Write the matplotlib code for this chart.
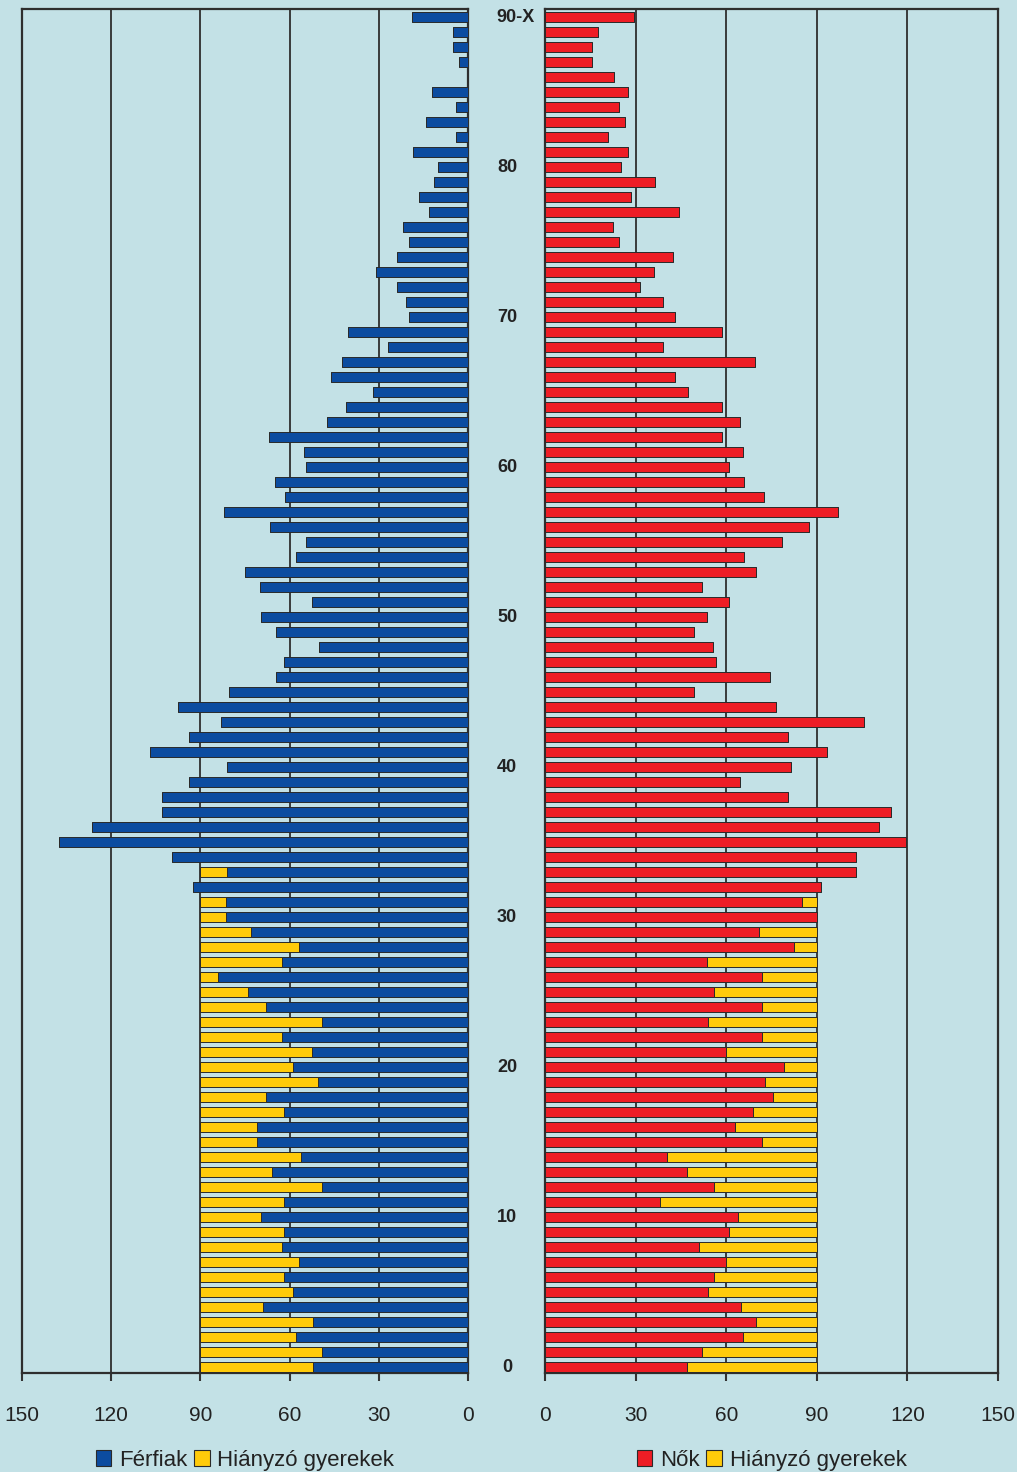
import numpy as np
import matplotlib.pyplot as plt
from matplotlib.patches import Patch

plt.rcParams['font.family'] = ['Liberation Sans', 'DejaVu Sans']

# korév 0..90 (90 = 90 és felette)
kor = np.arange(91)
kor_cimkek = ['0', '10', '20', '30', '40', '50', '60', '70', '80', '90-X']

# férfiak, 0-tól 90-X-ig
ferfiak = [52, 49, 58, 52, 69, 59, 62, 57, 62.5, 62,
           69.5, 62, 49, 66, 56, 71, 71, 62, 68, 50.5,
           59, 52.5, 62.5, 49, 68, 74, 84, 62.5, 57, 73,
           81.5, 81.5, 92.5, 81, 99.5, 137.5, 126.5, 103, 103, 94,
           81, 107, 94, 83, 97.5, 80.5, 64.5, 62, 50, 64.5,
           69.5, 52.5, 70, 75, 58, 54.5, 66.5, 82, 61.5, 65,
           54.5, 55, 67, 47.5, 41, 32, 46, 42.5, 27, 40.5,
           20, 21, 24, 31, 24, 20, 22, 13, 16.5, 11.5,
           10, 18.5, 4, 14, 4, 12, 0, 3, 5, 5,
           19]

# nők, 0-tól 90-X-ig
nok = [47, 52, 65.5, 70, 65, 54, 56, 60, 51, 61,
       64, 38, 56, 47, 40.5, 72, 63, 69, 75.5, 73,
       79, 60, 72, 54, 72, 56, 72, 53.5, 82.5, 71,
       90, 85, 91.5, 103, 103, 119.5, 110.5, 114.5, 80.5, 64.5,
       81.5, 93.5, 80.5, 105.5, 76.5, 49.5, 74.5, 56.5, 55.5, 49.5,
       53.5, 61, 52, 70, 66, 78.5, 87.5, 97, 72.5, 66,
       61, 65.5, 58.5, 64.5, 58.5, 47.5, 43, 69.5, 39, 58.5,
       43, 39, 31.5, 36, 42.5, 24.5, 22.5, 44.5, 28.5, 36.5,
       25, 27.5, 21, 26.5, 24.5, 27.5, 23, 15.5, 15.5, 17.5,
       29.5]

# hiányzó gyerekek: a 90-es szintig kiegészítve, 33 éves korig
szint = 90
hatar = 33
ferfiak = np.array(ferfiak, dtype=float)
nok = np.array(nok, dtype=float)
hiany_f = np.where(kor <= hatar, np.clip(szint - ferfiak, 0, None), 0)
hiany_n = np.where(kor <= hatar, np.clip(szint - nok, 0, None), 0)

hatter = '#c3e1e6'
kek = '#0c4ca0'
piros = '#ee1d25'
sarga = '#ffcb0a'
szel = '#2a2a2a'

fig = plt.figure(figsize=(10.17, 14.72), dpi=100, facecolor=hatter)
ax1 = fig.add_axes([22 / 1017, 1 - 1373 / 1472, 446 / 1017, 1364 / 1472])
ax2 = fig.add_axes([545 / 1017, 1 - 1373 / 1472, 453 / 1017, 1364 / 1472])

magas = 0.67
# bal oldal - férfiak
ax1.barh(kor, ferfiak, height=magas, color=kek, edgecolor=szel, linewidth=0.7, zorder=3)
ax1.barh(kor, hiany_f, left=ferfiak, height=magas, color=sarga, edgecolor=szel,
         linewidth=0.7, zorder=3)
ax1.set_xlim(150, 0)
# jobb oldal - nők
ax2.barh(kor, nok, height=magas, color=piros, edgecolor=szel, linewidth=0.7, zorder=3)
ax2.barh(kor, hiany_n, left=nok, height=magas, color=sarga, edgecolor=szel,
         linewidth=0.7, zorder=3)
ax2.set_xlim(0, 150)

for ax in (ax1, ax2):
    ax.set_facecolor(hatter)
    ax.set_ylim(-0.4, 90.55)
    ax.set_yticks([])
    ax.set_xticks([0, 30, 60, 90, 120, 150])
    ax.tick_params(axis='x', length=6, width=1.5, color='#333333', pad=18,
                   labelsize=15, labelcolor='#222222')
    for lab in ax.get_xticklabels():
        lab.set_family(['Liberation Sans Narrow', 'Liberation Sans'])
    for x in (30, 60, 90, 120):
        ax.axvline(x, color='#2e2e2e', linewidth=1.3, zorder=1)
    for s in ax.spines.values():
        s.set_color('#2e2e2e')
        s.set_linewidth(1.6)

# korcsoport feliratok középen
for i, c in enumerate(kor_cimkek):
    if c == '90-X':
        ax2.text(-49 / 453, i * 10, c, ha='left', va='center', fontsize=13,
                 fontweight='bold', color='#222222', transform=ax2.get_yaxis_transform())
    else:
        ax2.text(-38 / 453, i * 10, c, ha='center', va='center', fontsize=13,
                 fontweight='bold', color='#222222', transform=ax2.get_yaxis_transform())

# jelmagyarázat
for ax, szin, nev in ((ax1, kek, 'Férfiak'), (ax2, piros, 'Nők')):
    kezelok = [Patch(facecolor=szin, edgecolor=szel, linewidth=0.8),
               Patch(facecolor=sarga, edgecolor=szel, linewidth=0.8)]
    ax.legend(kezelok, [nev, 'Hiányzó gyerekek'], loc='center', bbox_to_anchor=(0.5, -0.064),
              ncol=2, frameon=False, fontsize=16, handlelength=0.7, handleheight=0.7,
              handletextpad=0.35, columnspacing=0.3, labelcolor='#222222')

plt.savefig('out.png', dpi=100, facecolor=hatter)
